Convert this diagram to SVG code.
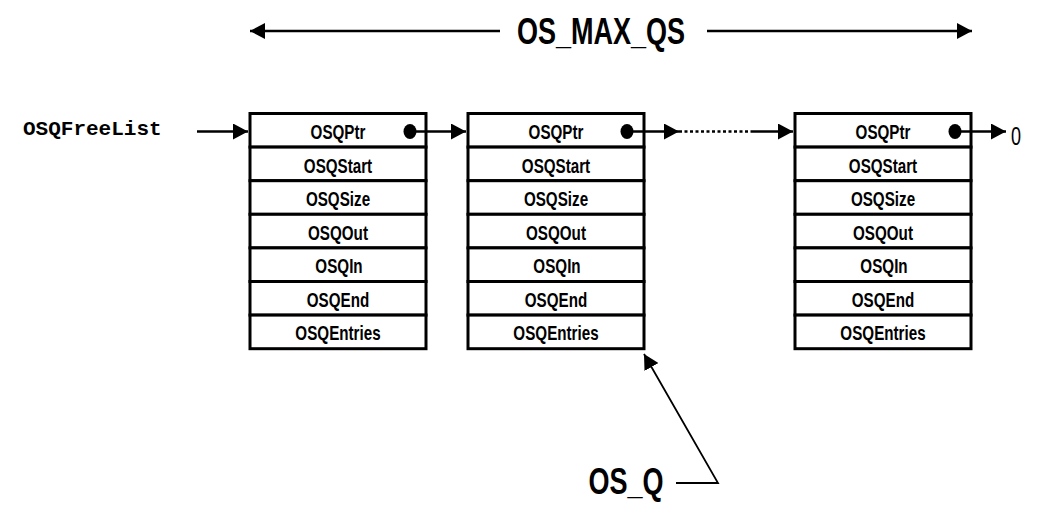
<svg xmlns="http://www.w3.org/2000/svg" width="1049" height="528" viewBox="0 0 1049 528">
<defs>
<marker id="ah" markerUnits="userSpaceOnUse" markerWidth="15" markerHeight="16" refX="15" refY="8" orient="auto">
<path d="M0,0 L15,8 L0,16 z" fill="#000"/>
</marker>
<style>
.cell{fill:#fff;stroke:#000;stroke-width:3}
.ft{font-family:"Liberation Sans",Arial,sans-serif;font-weight:bold;font-size:20px;text-anchor:middle;fill:#000}
.big{font-family:"Liberation Sans",Arial,sans-serif;font-weight:bold;font-size:37px;text-anchor:middle;fill:#000}
.mono{font-family:"Liberation Mono","Courier New",monospace;font-weight:bold;font-size:21px;fill:#000}
.ln{stroke:#000;stroke-width:2.5;fill:none}
.thin{stroke:#000;stroke-width:1.8;fill:none}
</style>
</defs>
<rect width="1049" height="528" fill="#fff"/>

<g id="freelist-label">
<text class="mono" x="23" y="135">OSQFreeList</text>
</g>

<g id="os-max-qs-label">
<text class="big" transform="translate(601,44) scale(0.73,1)">OS_MAX_QS</text>
</g>

<g id="os-q-label">
<text class="big" transform="translate(626,494) scale(0.73,1)">OS_Q</text>
</g>

<g id="null-label">
<text transform="translate(1016,145) scale(0.72,1)" style="font-family:'Liberation Sans',Arial,sans-serif;font-size:25px;text-anchor:middle">0</text>
</g>

<g id="queue1">
<rect class="cell" x="250" y="113.5" width="176" height="33.6"/>
<rect class="cell" x="250" y="147.1" width="176" height="33.6"/>
<rect class="cell" x="250" y="180.7" width="176" height="33.6"/>
<rect class="cell" x="250" y="214.3" width="176" height="33.6"/>
<rect class="cell" x="250" y="247.9" width="176" height="33.6"/>
<rect class="cell" x="250" y="281.5" width="176" height="33.6"/>
<rect class="cell" x="250" y="315.1" width="176" height="33.6"/>
<text class="ft" transform="translate(338,138.5) scale(0.76,1)">OSQPtr</text>
<text class="ft" transform="translate(338,172.5) scale(0.76,1)">OSQStart</text>
<text class="ft" transform="translate(338,206) scale(0.76,1)">OSQSize</text>
<text class="ft" transform="translate(338,239.5) scale(0.76,1)">OSQOut</text>
<text class="ft" transform="translate(339,273) scale(0.76,1)">OSQIn</text>
<text class="ft" transform="translate(338,306.5) scale(0.76,1)">OSQEnd</text>
<text class="ft" transform="translate(338,340) scale(0.76,1)">OSQEntries</text>
<ellipse cx="410" cy="131.5" rx="6.5" ry="7.5" fill="#000"/>
</g>

<g id="queue2">
<rect class="cell" x="468" y="113.5" width="176" height="33.6"/>
<rect class="cell" x="468" y="147.1" width="176" height="33.6"/>
<rect class="cell" x="468" y="180.7" width="176" height="33.6"/>
<rect class="cell" x="468" y="214.3" width="176" height="33.6"/>
<rect class="cell" x="468" y="247.9" width="176" height="33.6"/>
<rect class="cell" x="468" y="281.5" width="176" height="33.6"/>
<rect class="cell" x="468" y="315.1" width="176" height="33.6"/>
<text class="ft" transform="translate(556,138.5) scale(0.76,1)">OSQPtr</text>
<text class="ft" transform="translate(556,172.5) scale(0.76,1)">OSQStart</text>
<text class="ft" transform="translate(556,206) scale(0.76,1)">OSQSize</text>
<text class="ft" transform="translate(556,239.5) scale(0.76,1)">OSQOut</text>
<text class="ft" transform="translate(557,273) scale(0.76,1)">OSQIn</text>
<text class="ft" transform="translate(556,306.5) scale(0.76,1)">OSQEnd</text>
<text class="ft" transform="translate(556,340) scale(0.76,1)">OSQEntries</text>
<ellipse cx="627" cy="131.5" rx="6.5" ry="7.5" fill="#000"/>
</g>

<g id="queue3">
<rect class="cell" x="795" y="113.5" width="176" height="33.6"/>
<rect class="cell" x="795" y="147.1" width="176" height="33.6"/>
<rect class="cell" x="795" y="180.7" width="176" height="33.6"/>
<rect class="cell" x="795" y="214.3" width="176" height="33.6"/>
<rect class="cell" x="795" y="247.9" width="176" height="33.6"/>
<rect class="cell" x="795" y="281.5" width="176" height="33.6"/>
<rect class="cell" x="795" y="315.1" width="176" height="33.6"/>
<text class="ft" transform="translate(883,138.5) scale(0.76,1)">OSQPtr</text>
<text class="ft" transform="translate(883,172.5) scale(0.76,1)">OSQStart</text>
<text class="ft" transform="translate(883,206) scale(0.76,1)">OSQSize</text>
<text class="ft" transform="translate(883,239.5) scale(0.76,1)">OSQOut</text>
<text class="ft" transform="translate(884,273) scale(0.76,1)">OSQIn</text>
<text class="ft" transform="translate(883,306.5) scale(0.76,1)">OSQEnd</text>
<text class="ft" transform="translate(883,340) scale(0.76,1)">OSQEntries</text>
<ellipse cx="955" cy="131.5" rx="6.5" ry="7.5" fill="#000"/>
</g>

<g id="connectors">
<line class="ln" x1="500" y1="31" x2="250" y2="31" marker-end="url(#ah)"/>
<line class="ln" x1="707" y1="31" x2="972" y2="31" marker-end="url(#ah)"/>
<line class="ln" x1="197" y1="131.5" x2="248" y2="131.5" marker-end="url(#ah)"/>
<line class="ln" x1="410" y1="131.5" x2="466" y2="131.5" marker-end="url(#ah)"/>
<line class="ln" x1="627" y1="131.5" x2="679" y2="131.5" marker-end="url(#ah)"/>
<line class="ln" x1="679" y1="131.5" x2="752" y2="131.5" stroke-dasharray="3 2.5"/>
<line class="ln" x1="752" y1="131.5" x2="793" y2="131.5" marker-end="url(#ah)"/>
<line class="ln" x1="955" y1="131.5" x2="1006" y2="131.5" marker-end="url(#ah)"/>
<polyline class="thin" points="676,483 718,483 644,354" marker-end="url(#ah)"/>
</g>
</svg>
